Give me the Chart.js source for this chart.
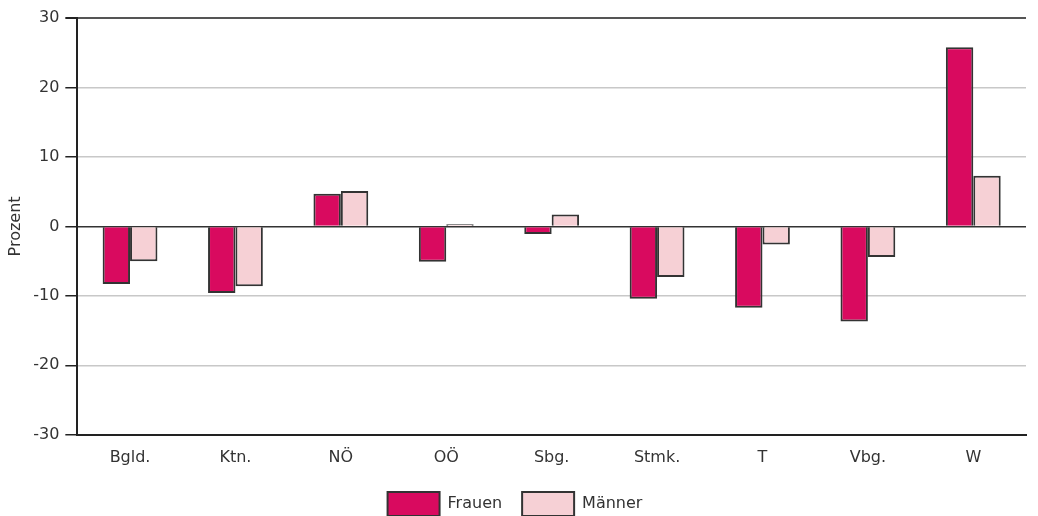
<!DOCTYPE html>
<html>
<head>
<meta charset="utf-8">
<script src="https://cdn.jsdelivr.net/npm/chart.js@4"></script>
<style>
  html, body { margin: 0; padding: 0; background: #fff; }
  #wrap { width: 1038px; height: 516px; }
</style>
</head>
<body>
<div id="wrap"><canvas id="myBarChart" width="1038" height="516"></canvas></div>
<script>
const labels = ['Bgld.', 'Ktn.', 'NÖ', 'OÖ', 'Sbg.', 'Stmk.', 'T', 'Vbg.', 'W'];
const frauen = [-8.3, -9.6, 4.7, -5.1, -1.1, -10.4, -11.7, -13.7, 25.8];
const maenner = [-5.0, -8.6, 5.1, 0.3, 1.7, -7.3, -2.6, -4.4, 7.3];

const fontFamily = '"DejaVu Sans", sans-serif';

function gridColor(c) {
  const v = c.tick.value;
  if (v === 0) return '#333';
  if (v === 30) return '#555';
  if (v === -30) return '#222';
  return '#c8c8c8';
}

function renderBarChart() {
  const ctx = document.getElementById('myBarChart').getContext('2d');
  new Chart(ctx, {
    type: 'bar',
    data: {
      labels: labels,
      datasets: [{
        label: 'Frauen',
        data: frauen,
        backgroundColor: '#d90a5f',
        borderColor: '#333333',
        borderWidth: 2,
        borderSkipped: 'start'
      }, {
        label: 'Männer',
        data: maenner,
        backgroundColor: '#f6d0d5',
        borderColor: '#333333',
        borderWidth: 2,
        borderSkipped: 'start'
      }]
    },
    options: {
      responsive: false,
      animation: false,
      layout: { padding: { top: 18, right: 12, left: 4, bottom: -10 } },
      datasets: {
        bar: { categoryPercentage: 0.52, barPercentage: 1.0 }
      },
      plugins: {
        tooltip: { enabled: false },
        legend: {
          position: 'bottom',
          labels: {
            boxWidth: 52,
            boxHeight: 24,
            padding: 20,
            color: '#333',
            font: { family: fontFamily, size: 16 }
          }
        }
      },
      scales: {
        x: {
          grid: { display: false },
          border: { display: true, color: '#222', width: 2 },
          ticks: { color: '#333', padding: 5, font: { family: fontFamily, size: 16 } }
        },
        y: {
          min: -30,
          max: 30,
          ticks: {
            stepSize: 10,
            color: '#333',
            padding: 6,
            font: { family: fontFamily, size: 16 }
          },
          grid: {
            color: gridColor,
            lineWidth: c => (c.tick.value === 30 ? 2 : 1.5),
            tickColor: '#222',
            tickLength: 12
          },
          border: { display: true, color: '#222', width: 2 },
          title: {
            display: true,
            text: 'Prozent',
            color: '#333',
            padding: 2,
            font: { family: fontFamily, size: 16 }
          }
        }
      }
    }
  });
}

renderBarChart();
</script>
</body>
</html>
